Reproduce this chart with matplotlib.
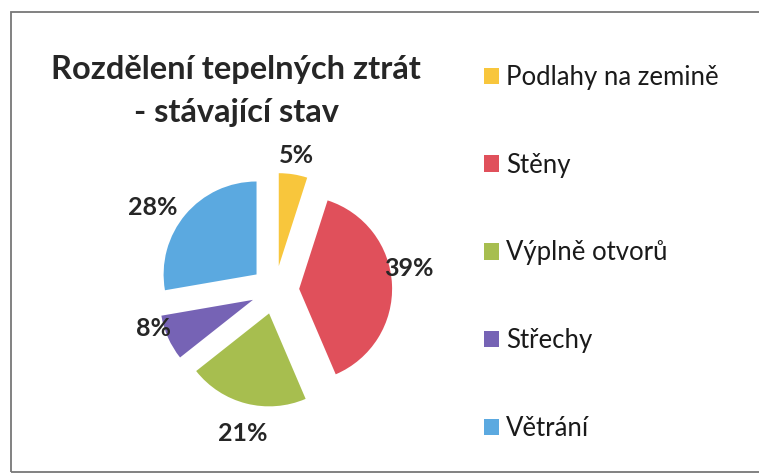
import numpy as np
import matplotlib
matplotlib.use('Agg')
import matplotlib.pyplot as plt
from matplotlib.patches import Rectangle

# data
categories = ['Podlahy na zemině', 'Stěny', 'Výplně otvorů', 'Střechy', 'Větrání']
shares = [5, 39, 21, 8, 28]
pct_labels = ['5%', '39%', '21%', '8%', '28%']
colors = ['#F8C63C', '#E0505B', '#A7BE4F', '#7663B5', '#5BA9E0']

# label placement (Excel "best fit"): distance from pie centre in radii, angular nudge in deg
label_dist = [1.46, 1.46, 1.58, 1.37, 1.59]
label_nudge = [0, 6.6, 1.6, -6.6, 6]

plt.rcParams['font.family'] = ['Lato', 'DejaVu Sans']

fig = plt.figure(figsize=(7.59, 4.76), dpi=100)

# square axes so the pie sits where it does in the original
ax = fig.add_axes([0.1542, 0.0588, 0.4163, 0.6639])
wedges, texts = ax.pie(shares, colors=colors, startangle=90, counterclock=False,
                       explode=[0.26] * len(shares), labels=pct_labels,
                       textprops=dict(fontsize=18, fontweight='bold', color='#262626'))
for w, t, d, n in zip(wedges, texts, label_dist, label_nudge):
    mid = np.deg2rad((w.theta1 + w.theta2) / 2 + n)
    t.set_position((d * np.cos(mid), d * np.sin(mid)))
    t.set_ha('center')
    t.set_va('center')
ax.set_xlim(-1.7, 1.7)
ax.set_ylim(-1.7, 1.7)
ax.axis('off')

fig.text(0.311, 0.8845, 'Rozdělení tepelných ztrát\n- stávající stav',
         ha='center', va='top', fontsize=23.5, fontweight='bold', color='#262626',
         linespacing=1.6)

leg = ax.legend(wedges, categories, loc='upper left',
                bbox_to_anchor=(0.607, 0.912), bbox_transform=fig.transFigure,
                frameon=False, fontsize=18.5, labelspacing=2.44,
                handlelength=0.6, handleheight=0.6, handletextpad=0.25)
for t in leg.get_texts():
    t.set_color('#1a1a1a')

# chart border
fig.patches.append(Rectangle((0.0145, 0.0084), 1.0, 0.966, transform=fig.transFigure,
                             fill=False, edgecolor='#777777', linewidth=1.3))

fig.savefig('out.png', dpi=100)
